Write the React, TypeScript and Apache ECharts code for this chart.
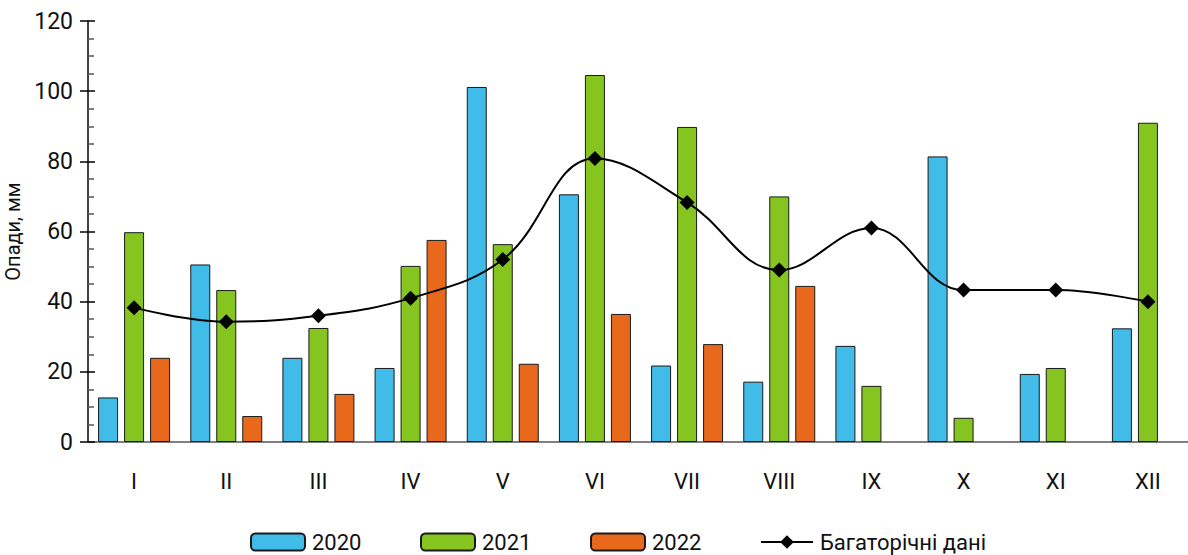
import React, { useEffect, useRef } from "react";
import * as echarts from "echarts";

const months = ["I", "II", "III", "IV", "V", "VI", "VII", "VIII", "IX", "X", "XI", "XII"];
const s2020 = [12.7, 50.6, 24, 21.1, 101.2, 70.6, 21.8, 17.2, 27.4, 81.4, 19.4, 32.4];
const s2021 = [59.8, 43.3, 32.5, 50.2, 56.4, 104.6, 89.8, 70, 16, 6.9, 21.1, 91];
const s2022: (number | null)[] = [24, 7.4, 13.7, 57.6, 22.3, 36.5, 27.9, 44.5, null, null, null, null];
const longTerm = [38.3, 34.3, 36, 41, 52, 80.8, 68.3, 49, 61, 43.3, 43.3, 40];
const yTicks = { min: 0, max: 120, interval: 20 };

const FONT = "Roboto";

export default function App() {
  const ref = useRef<HTMLDivElement>(null);
  useEffect(() => {
    if (!ref.current) return;
    const chart = echarts.init(ref.current, undefined, { renderer: "svg" });
    const barStyle = (color: string) => ({
      color,
      borderColor: "#1a1a1a",
      borderWidth: 1,
    });
    const legendBase = {
      top: 531,
      itemWidth: 54,
      itemHeight: 17,
      padding: 0,
      itemGap: 0,
      textStyle: { fontSize: 22, lineHeight: 22, fontFamily: FONT, color: "#111", padding: [0, 0, 0, 2] },
    };
    chart.setOption({
      animation: false,
      backgroundColor: "#fff",
      grid: { left: 88, top: 21, width: 1106, height: 421, containLabel: false, outerBoundsMode: "none" },
      legend: [
        { ...legendBase, left: 250, data: ["2020"] },
        { ...legendBase, left: 420, data: ["2021"] },
        { ...legendBase, left: 590, data: ["2022"] },
        { ...legendBase, left: 760, itemWidth: 52, data: ["Багаторічні дані"] },
      ],
      xAxis: {
        type: "category",
        data: months,
        axisLine: { show: true, lineStyle: { color: "#808080", width: 2 } },
        axisTick: { show: false },
        axisLabel: { fontSize: 22, fontFamily: FONT, color: "#111", margin: 28 },
      },
      yAxis: [
        {
          type: "value",
          min: yTicks.min,
          max: yTicks.max,
          interval: yTicks.interval,
          name: "Опади, мм",
          nameLocation: "middle",
          nameGap: 60,
          nameTextStyle: { fontSize: 20, fontFamily: FONT, color: "#111" },
          axisLine: { show: true, lineStyle: { color: "#000", width: 1.5 } },
          axisTick: { show: true, length: 8, lineStyle: { color: "#000", width: 1.5 } },
          axisLabel: { fontSize: 23, fontFamily: FONT, color: "#111", margin: 15 },
          splitLine: { show: false },
        },
        {
          type: "value",
          min: yTicks.min,
          max: yTicks.max,
          interval: yTicks.interval,
          position: "left",
          axisLine: { show: false },
          axisTick: { show: true, inside: true, length: 7, lineStyle: { color: "#000", width: 1.5 } },
          minorTick: { show: true, splitNumber: 4, length: 6, lineStyle: { color: "#555", width: 1.5 } },
          axisLabel: { show: false },
          splitLine: { show: false },
        },
      ],
      series: [
        { name: "2020", type: "bar", data: s2020, barWidth: 20, barGap: "30%", itemStyle: barStyle("#41BBE8") },
        { name: "2021", type: "bar", data: s2021, barWidth: 20, barGap: "30%", itemStyle: barStyle("#86C520") },
        { name: "2022", type: "bar", data: s2022, barWidth: 20, barGap: "30%", itemStyle: barStyle("#E8691C") },
        {
          name: "Багаторічні дані",
          type: "line",
          data: longTerm,
          smooth: 0.4,
          symbol: "diamond",
          symbolSize: 15,
          z: 5,
          lineStyle: { color: "#000", width: 2 },
          itemStyle: { color: "#000" },
        },
      ],
    });
    return () => chart.dispose();
  }, []);
  return (
    <div
      ref={ref}
      style={{ position: "absolute", left: 0, top: 0, width: 1188, height: 555, background: "#fff" }}
    />
  );
}
